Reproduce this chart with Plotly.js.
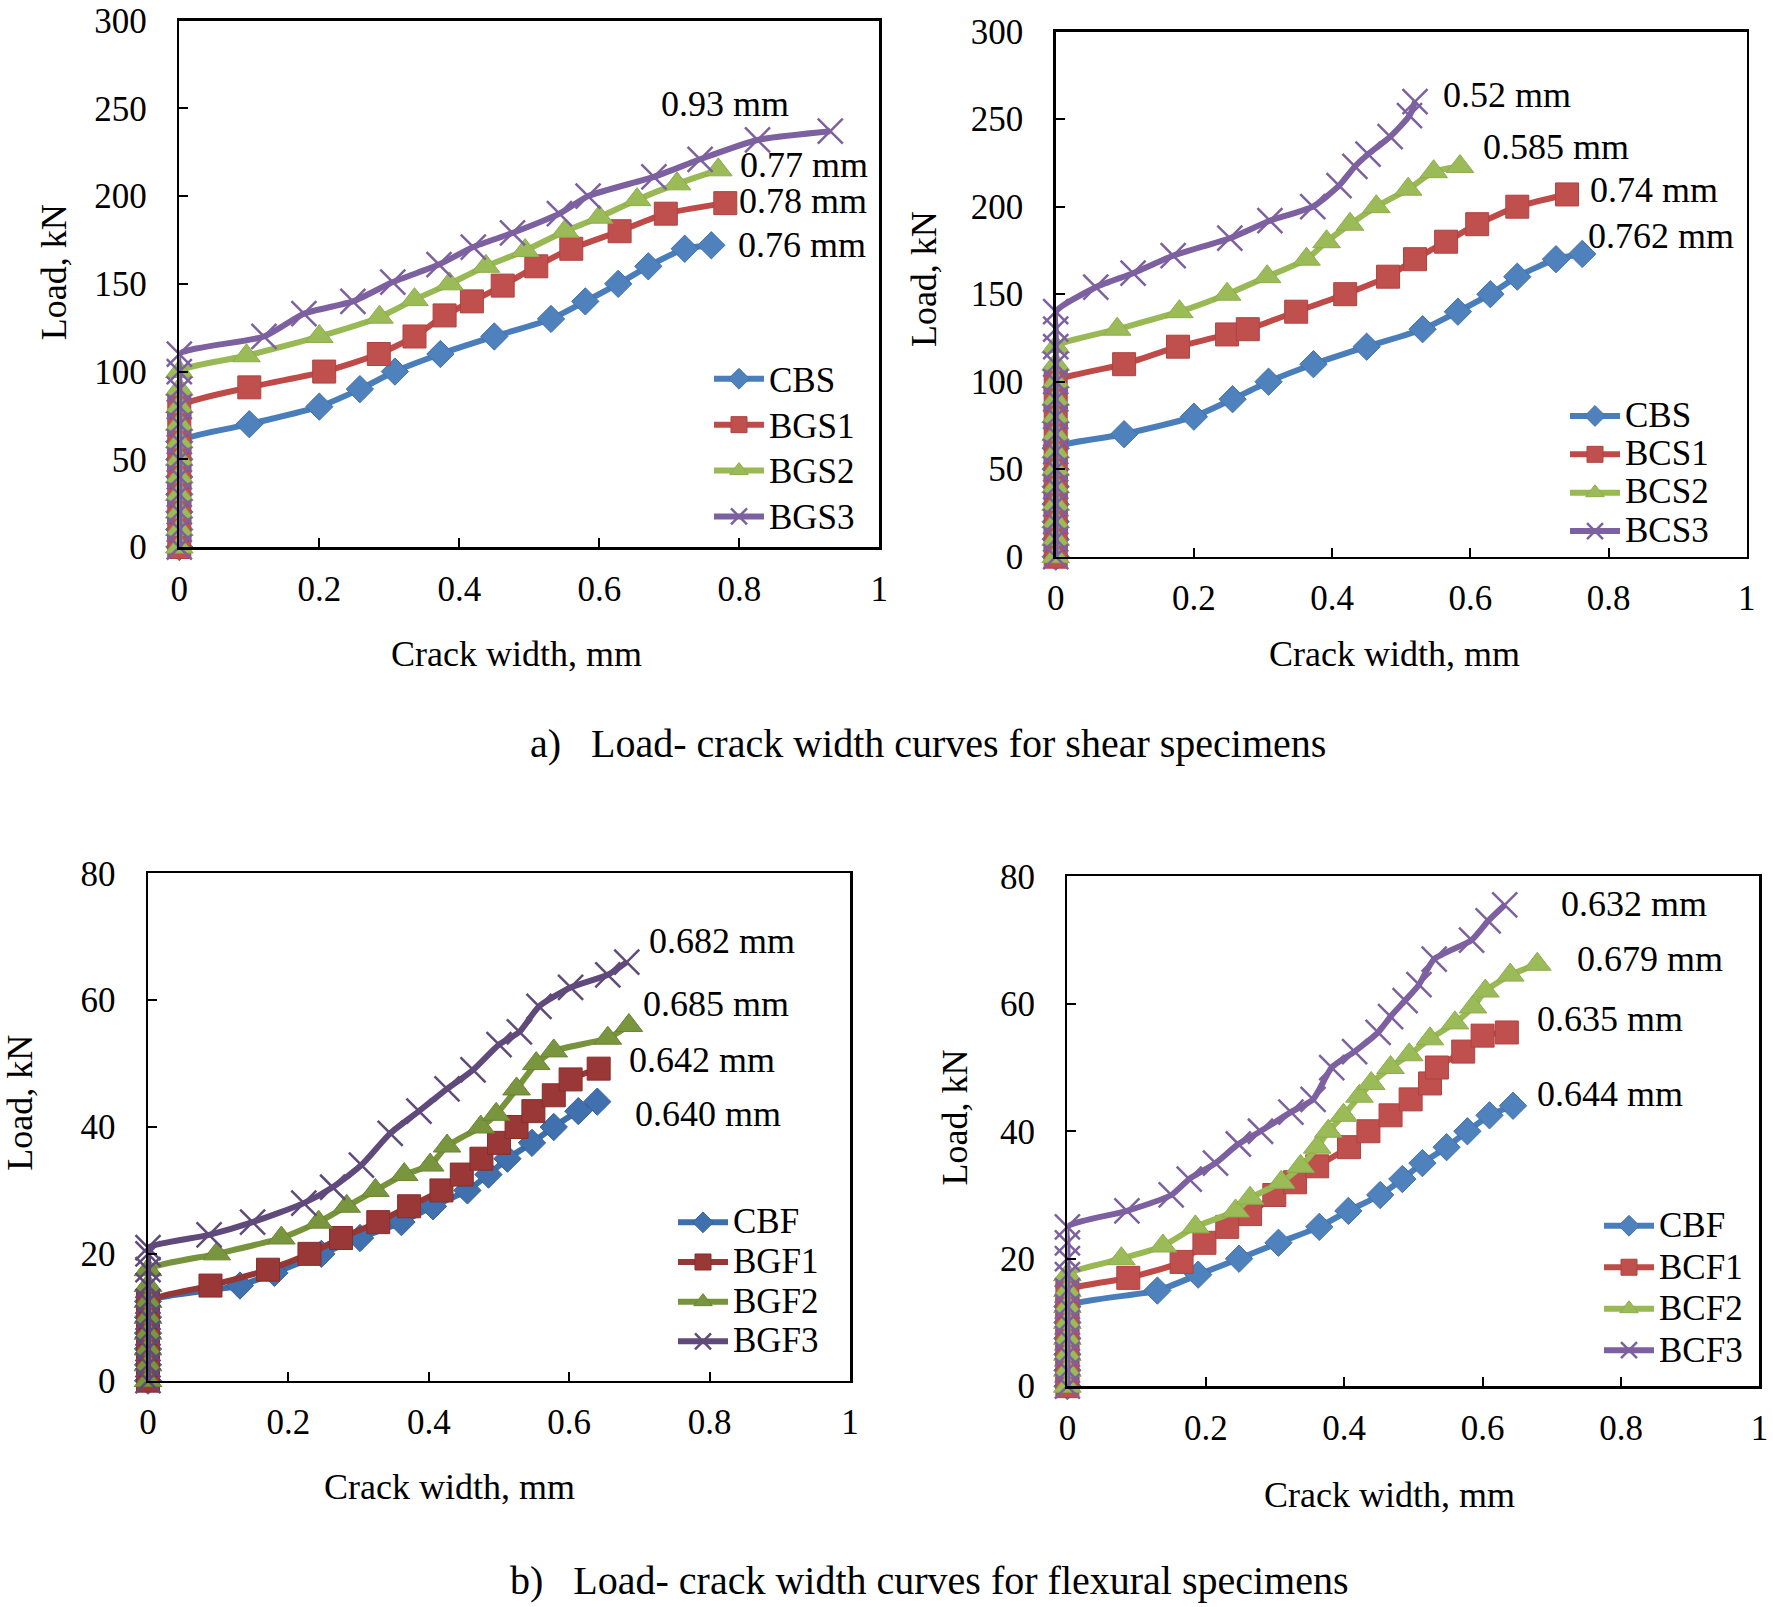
<!DOCTYPE html>
<html><head><meta charset="utf-8">
<script src="https://cdn.plot.ly/plotly-3.0.1.min.js"></script>
<style>html,body{margin:0;padding:0;background:#fff}#chart{width:1773px;height:1607px}</style>
</head><body><div id="chart"></div>
<script>
// ---------------- DATA ----------------
// a) shear specimens, GFRP (left top)
const crackCBS_a = [0,0,0,0,0,0,0,0.1,0.2,0.258,0.308,0.373,0.45,0.531,0.58,0.627,0.67,0.722,0.76];
const loadCBS_a  = [0,10,20,30,40,50,60,70,80,90,100,110,120,130,140,150,160,170,172];
const crackBGS1 = [0,0,0,0,0,0,0,0,0,0.1,0.207,0.285,0.336,0.379,0.418,0.462,0.51,0.56,0.629,0.695,0.78];
const loadBGS1  = [0,10,20,30,40,50,60,70,80,91,100,110,120,132,140,149,160,170,180,190,196];
const crackBGS2 = [0,0,0,0,0,0,0,0,0,0,0,0.096,0.2,0.286,0.336,0.386,0.438,0.494,0.551,0.6,0.654,0.711,0.77];
const loadBGS2  = [0,10,20,30,40,50,60,70,80,90,100,109,120,131,141,150,160,169,180,188,198,207,215];
const crackBGS3 = [0,0,0,0,0,0,0,0,0,0,0,0,0.121,0.178,0.248,0.305,0.371,0.42,0.476,0.543,0.584,0.678,0.744,0.826,0.93];
const loadBGS3  = [0,10,20,30,40,50,60,70,80,90,100,110,120,133,140,151,161,171,179,190,200,211,221,232,237];

// a) shear specimens, CFRP (right top)
const crackCBS_b = [0,0,0,0,0,0,0,0.099,0.2,0.256,0.308,0.373,0.45,0.531,0.582,0.629,0.668,0.724,0.762];
const loadCBS_b  = [0,10,20,30,40,50,62,70,80,90,100,110,120,130,140,150,160,170,173];
const crackBCS1 = [0,0,0,0,0,0,0,0,0,0,0,0.099,0.177,0.248,0.278,0.348,0.419,0.481,0.52,0.565,0.61,0.668,0.74];
const loadBCS1  = [0,10,20,30,40,50,60,70,80,90,100,110,120,127,130,140,150,160,170,180,190,200,207];
const crackBCS2 = [0,0,0,0,0,0,0,0,0,0,0,0,0,0.089,0.179,0.248,0.306,0.363,0.392,0.426,0.464,0.51,0.547,0.585];
const loadBCS2  = [0,10,20,30,40,50,60,70,80,90,100,110,120,130,140,150,160,170,180,190,200,210,220,223];
const crackBCS3 = [0,0,0,0,0,0,0,0,0,0,0,0,0,0,0,0.058,0.112,0.17,0.252,0.31,0.372,0.41,0.433,0.452,0.484,0.512,0.52];
const loadBCS3  = [0,10,20,30,40,50,60,70,80,90,100,110,120,130,140,154,162,172,182,192,200,212,223,230,240,252,260];

// b) flexural specimens, GFRP (left bottom)
const crackCBF_c = [0,0,0,0,0,0,0.131,0.18,0.247,0.302,0.361,0.406,0.455,0.485,0.512,0.547,0.578,0.613,0.64];
const loadCBF_c  = [0,2.5,5,7.5,10,12.5,15,17,20,22.5,25,27.5,30,32.5,35,37.5,40,42.5,44];
const crackBGF1 = [0,0,0,0,0,0,0.089,0.171,0.23,0.275,0.328,0.372,0.418,0.447,0.475,0.5,0.525,0.549,0.578,0.602,0.642];
const loadBGF1  = [0,2.5,5,7.5,10,12.5,15,17.5,20,22.5,25,27.5,30,32.5,35,37.5,40,42.5,45,47.5,49.2];
const crackBGF2 = [0,0,0,0,0,0,0,0,0.098,0.19,0.243,0.283,0.324,0.365,0.402,0.426,0.474,0.496,0.525,0.553,0.578,0.655,0.685];
const loadBGF2  = [0,2.5,5,7.5,10,12.5,15,17.5,20,22.5,25,27.5,30,32.5,34,37,40,42,46,50,52,54,56];
const crackBGF3 = [0,0,0,0,0,0,0,0,0,0,0.087,0.149,0.222,0.263,0.304,0.345,0.386,0.426,0.463,0.5,0.529,0.557,0.602,0.655,0.682];
const loadBGF3  = [0,2.5,5,7.5,10,12.5,15,17.5,20,21,23,25,28,30.5,34,39,42.5,46,49,53,55,59,62,64,66];

// b) flexural specimens, CFRP (right bottom)
const crackCBF_d = [0,0,0,0,0,0,0.13,0.189,0.248,0.305,0.364,0.406,0.452,0.484,0.513,0.548,0.578,0.61,0.644];
const loadCBF_d  = [0,2.5,5,7.5,10,12.5,15,17.5,20,22.5,25,27.5,30,32.5,35,37.5,40,42.5,44];
const crackBCF1 = [0,0,0,0,0,0,0,0.088,0.165,0.198,0.231,0.264,0.299,0.329,0.361,0.407,0.435,0.467,0.496,0.524,0.534,0.572,0.6,0.635];
const loadBCF1  = [0,2.5,5,7.5,10,12.5,15,17,19.5,22.5,25,27,30,32,34.5,37.5,40,42.5,45,47.5,50,52.5,55,55.5];
const crackBCF2 = [0,0,0,0,0,0,0,0,0.078,0.138,0.185,0.243,0.264,0.309,0.337,0.361,0.377,0.399,0.422,0.439,0.467,0.494,0.524,0.56,0.586,0.604,0.64,0.679];
const loadBCF2  = [0,2.5,5,7.5,10,12.5,15,17.5,20,22,25,27.5,29.5,32,34.5,37.5,40,42.5,45.5,47.5,50,52,54.5,57,59.5,62,64.5,66.2];
const crackBCF3 = [0,0,0,0,0,0,0,0,0,0,0,0.086,0.15,0.176,0.214,0.247,0.279,0.323,0.355,0.382,0.415,0.449,0.467,0.488,0.508,0.53,0.584,0.608,0.632];
const loadBCF3  = [0,2.5,5,7.5,10,12.5,15,17.5,20,22.5,25,27.5,30,32.5,35,38,40,43,45,50,52.5,55.5,58,60.5,63,67,70,73,75.5];

// ultimate crack width labels
const labelsA = ['0.93 mm','0.77 mm','0.78 mm','0.76 mm'];
const labelsB = ['0.52 mm','0.585 mm','0.74 mm','0.762 mm'];
const labelsC = ['0.682 mm','0.685 mm','0.642 mm','0.640 mm'];
const labelsD = ['0.632 mm','0.679 mm','0.635 mm','0.644 mm'];

const xTitle = 'Crack width, mm';
const yTitle = 'Load, kN';
const captionA = 'a)\u00a0\u00a0\u00a0Load- crack width curves for shear specimens';
const captionB = 'b)\u00a0\u00a0\u00a0Load- crack width curves for flexural specimens';

// ---------------- STYLE ----------------
const W = 1773, H = 1607;
const FONT = 'Liberation Serif, Times New Roman, serif';
const px = v => v / W;
const py = v => 1 - v / H;

const STD = {
  blue:   {line:'#4A7EBB', fill:'#4F81BD', edge:'#4272AD'},
  red:    {line:'#BE4B48', fill:'#C0504D', edge:'#AE4340'},
  green:  {line:'#98B954', fill:'#9BBB59', edge:'#8DAD4C'},
  purple: {line:'#7D60A0', fill:'#8064A2', edge:'#6B518C'}
};
const DARK = {
  blue:   {line:'#3D6FAA', fill:'#4070AD', edge:'#35629A'},
  red:    {line:'#953735', fill:'#993836', edge:'#862F2D'},
  green:  {line:'#77933C', fill:'#79953D', edge:'#6A8535'},
  purple: {line:'#604A7B', fill:'#634C80', edge:'#4E3C66'}
};

function mk(x, y, name, c, kind, xa, ya, leg) {
  const marker = {color: c.fill, line: {color: c.edge, width: 1}};
  if (kind === 'diamond') { marker.symbol = 'diamond'; marker.size = 21; }
  if (kind === 'square')  { marker.symbol = 'square'; marker.size = 23; }
  if (kind === 'tri')     { marker.symbol = 'triangle-up'; marker.size = 24; }
  if (kind === 'x')       { marker.symbol = 'x-thin'; marker.size = 25; marker.line = {color: c.line, width: 2.5}; }
  return {
    type: 'scatter', mode: 'lines+markers', x: x, y: y,
    name: '<span style="font-size:35px">' + name + '</span>',
    xaxis: xa, yaxis: ya, legend: leg, cliponaxis: false,
    line: {color: c.line, width: 6, shape: 'spline', smoothing: 0.6},
    marker: marker
  };
}

const data = [
  mk(crackCBS_a, loadCBS_a, 'CBS',  STD.blue,   'diamond', 'x',  'y',  'legend'),
  mk(crackBGS1,  loadBGS1,  'BGS1', STD.red,    'square',  'x',  'y',  'legend'),
  mk(crackBGS2,  loadBGS2,  'BGS2', STD.green,  'tri',     'x',  'y',  'legend'),
  mk(crackBGS3,  loadBGS3,  'BGS3', STD.purple, 'x',       'x',  'y',  'legend'),

  mk(crackCBS_b, loadCBS_b, 'CBS',  STD.blue,   'diamond', 'x2', 'y2', 'legend2'),
  mk(crackBCS1,  loadBCS1,  'BCS1', STD.red,    'square',  'x2', 'y2', 'legend2'),
  mk(crackBCS2,  loadBCS2,  'BCS2', STD.green,  'tri',     'x2', 'y2', 'legend2'),
  mk(crackBCS3,  loadBCS3,  'BCS3', STD.purple, 'x',       'x2', 'y2', 'legend2'),

  mk(crackCBF_c, loadCBF_c, 'CBF',  DARK.blue,   'diamond', 'x3', 'y3', 'legend3'),
  mk(crackBGF1,  loadBGF1,  'BGF1', DARK.red,    'square',  'x3', 'y3', 'legend3'),
  mk(crackBGF2,  loadBGF2,  'BGF2', DARK.green,  'tri',     'x3', 'y3', 'legend3'),
  mk(crackBGF3,  loadBGF3,  'BGF3', DARK.purple, 'x',       'x3', 'y3', 'legend3'),

  mk(crackCBF_d, loadCBF_d, 'CBF',  STD.blue,   'diamond', 'x4', 'y4', 'legend4'),
  mk(crackBCF1,  loadBCF1,  'BCF1', STD.red,    'square',  'x4', 'y4', 'legend4'),
  mk(crackBCF2,  loadBCF2,  'BCF2', STD.green,  'tri',     'x4', 'y4', 'legend4'),
  mk(crackBCF3,  loadBCF3,  'BCF3', STD.purple, 'x',       'x4', 'y4', 'legend4')
];

// panel pixel boxes [left, right, top, bottom]
const boxA = [179.3, 879.3, 20.7, 547.0];
const boxB = [1055.7, 1746.7, 31.7, 556.7];
const boxC = [148.0, 850.0, 873.3, 1380.7];
const boxD = [1067.4, 1759.4, 876.3, 1386.2];

function xax(box, anchor) {
  return {
    domain: [px(box[0]), px(box[1])], anchor: anchor,
    range: [0, 1], tick0: 0, dtick: 0.2, autorange: false,
    ticks: 'inside', ticklen: 9, tickwidth: 2, tickcolor: '#000',
    showline: true, mirror: true, linewidth: 2.5, linecolor: '#000',
    showgrid: false, zeroline: false, ticklabelstandoff: 9,
    tickfont: {family: FONT, size: 35, color: '#000'}
  };
}
function yax(box, anchor, maxv, dt) {
  return {
    domain: [py(box[3]), py(box[2])], anchor: anchor,
    range: [0, maxv], tick0: 0, dtick: dt, autorange: false,
    ticks: 'inside', ticklen: 9, tickwidth: 2, tickcolor: '#000',
    showline: true, mirror: true, linewidth: 2.5, linecolor: '#000',
    showgrid: false, zeroline: false, ticklabelstandoff: 23,
    tickfont: {family: FONT, size: 35, color: '#000'}
  };
}

function leg(xOrigin, top, fsize) {
  return {
    x: px(xOrigin), y: py(top), xanchor: 'left', yanchor: 'top',
    bgcolor: 'rgba(0,0,0,0)', borderwidth: 0, itemwidth: 50,
    font: {family: FONT, size: fsize, color: '#000'}
  };
}

const annFont = {family: FONT, size: 36, color: '#000'};
function dataLabel(text, xref, yref, x, y, anchor) {
  return {text: text, xref: xref, yref: yref, x: x, y: y, xanchor: anchor || 'left', yanchor: 'middle',
          showarrow: false, font: annFont};
}
function paperText(text, x, y, angle, size, xanchor) {
  return {text: text, xref: 'paper', yref: 'paper', x: px(x), y: py(y), xanchor: xanchor || 'center', yanchor: 'middle',
          textangle: angle || 0, showarrow: false, font: {family: FONT, size: size || 36, color: '#000'}};
}

const annotations = [
  dataLabel(labelsA[0], 'x', 'y', 0.78, 252.5, 'center'),
  dataLabel(labelsA[1], 'x', 'y', 0.798, 217.7),
  dataLabel(labelsA[2], 'x', 'y', 0.797, 197.2),
  dataLabel(labelsA[3], 'x', 'y', 0.795, 172.1),

  dataLabel(labelsB[0], 'x2', 'y2', 0.558, 263.8),
  dataLabel(labelsB[1], 'x2', 'y2', 0.616, 234.1),
  dataLabel(labelsB[2], 'x2', 'y2', 0.771, 209.5),
  dataLabel(labelsB[3], 'x2', 'y2', 0.768, 183.0),

  dataLabel(labelsC[0], 'x3', 'y3', 0.7105, 69.4),
  dataLabel(labelsC[1], 'x3', 'y3', 0.702, 59.4),
  dataLabel(labelsC[2], 'x3', 'y3', 0.683, 50.5),
  dataLabel(labelsC[3], 'x3', 'y3', 0.691, 42.1),

  dataLabel(labelsD[0], 'x4', 'y4', 0.711, 75.6),
  dataLabel(labelsD[1], 'x4', 'y4', 0.7335, 67.05),
  dataLabel(labelsD[2], 'x4', 'y4', 0.675, 57.6),
  dataLabel(labelsD[3], 'x4', 'y4', 0.675, 45.9),

  paperText(yTitle, 54.3, 272, -90),
  paperText(yTitle, 923.8, 279.3, -90),
  paperText(yTitle, 20.4, 1102.4, -90),
  paperText(yTitle, 955.4, 1117, -90),

  paperText(xTitle, 516.7, 653.5, 0),
  paperText(xTitle, 1394.2, 653.5, 0),
  paperText(xTitle, 450, 1487, 0),
  paperText(xTitle, 1389.6, 1494.8, 0),

  paperText(captionA, 528, 743, 0, 40, 'left'),
  paperText(captionB, 507.7, 1580.8, 0, 40, 'left')
];

const layout = {
  width: W, height: H,
  margin: {l: 0, r: 0, t: 0, b: 0},
  paper_bgcolor: '#fff', plot_bgcolor: 'rgba(0,0,0,0)',
  font: {family: FONT, color: '#000'},
  showlegend: true,
  xaxis: xax(boxA, 'y'),   yaxis: yax(boxA, 'x', 300, 50),
  xaxis2: xax(boxB, 'y2'), yaxis2: yax(boxB, 'x2', 300, 50),
  xaxis3: xax(boxC, 'y3'), yaxis3: yax(boxC, 'x3', 80, 20),
  xaxis4: xax(boxD, 'y4'), yaxis4: yax(boxD, 'x4', 80, 20),
  legend:  leg(709, 350.8, 33),
  legend2: leg(1565, 391.8, 27.2),
  legend3: leg(673, 1197.5, 28.2),
  legend4: leg(1599, 1200, 29.6),
  annotations: annotations
};

Plotly.newPlot('chart', data, layout, {staticPlot: true, displayModeBar: false});
</script></body></html>
